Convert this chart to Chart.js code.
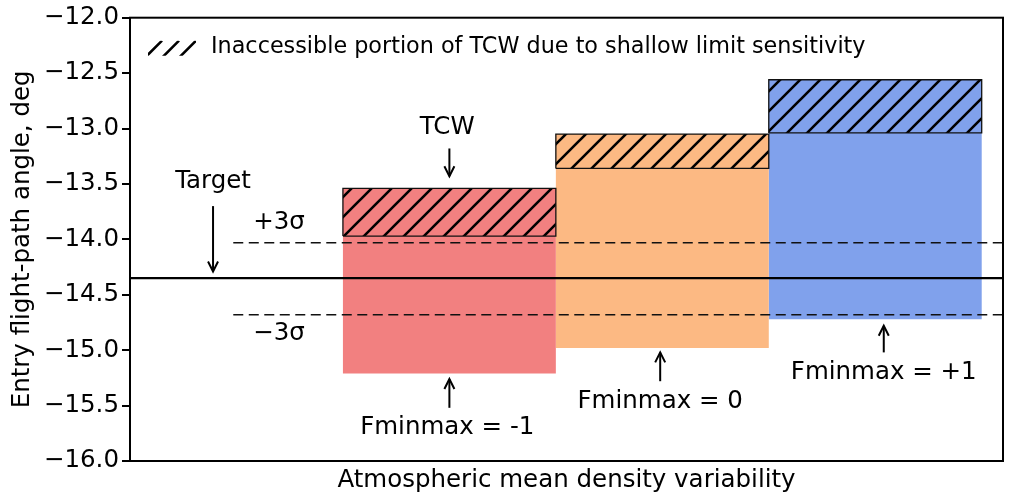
<!DOCTYPE html>
<html><head><meta charset="utf-8">
<script src="https://cdn.jsdelivr.net/npm/chart.js@4/dist/chart.umd.min.js"></script>
<style>html,body{margin:0;padding:0;background:#fff}#wrap{width:1016px;height:495px}</style>
</head><body><div id="wrap"><canvas id="c" width="1016" height="495"></canvas></div>
<script>
// ---- data ----
const cases = ['Fminmax = -1', 'Fminmax = 0', 'Fminmax = +1'];
const barStart = [1, 2, 3];
const barEnd = [2, 3, 4];
const tcwLow = [-15.21, -14.98, -14.72];   // lower limit of TCW
const tcwHigh = [-13.54, -13.05, -12.56];  // upper limit of TCW
const hatchLow = [-13.97, -13.36, -13.04]; // lower edge of inaccessible portion
const barColors = ['#F28080', '#FCB983', '#80A1EC'];
const targetFpa = -14.35;
const plus3Sigma = -14.03;
const minus3Sigma = -14.68;
const yTicks = [-16, -15.5, -15, -14.5, -14, -13.5, -13, -12.5, -12];

const FONT = 'DejaVu Sans';
const FS = 24.5;

function hatchPattern(bg) {
  const s = 20;
  const cv = document.createElement('canvas');
  cv.width = s; cv.height = s;
  const g = cv.getContext('2d');
  g.fillStyle = bg; g.fillRect(0, 0, s, s);
  g.strokeStyle = '#000'; g.lineWidth = 2.6; g.lineCap = 'square';
  g.beginPath();
  g.moveTo(-2, s + 2); g.lineTo(s + 2, -2);
  g.moveTo(-2, 2); g.lineTo(2, -2);
  g.moveTo(s - 2, s + 2); g.lineTo(s + 2, s - 2);
  g.stroke();
  return g.createPattern(cv, 'repeat');
}

function rect(x0, x1, y0, y1) {
  return [{x: x0, y: y0}, {x: x1, y: y0}, {x: x1, y: y1}, {x: x0, y: y1}, {x: x0, y: y0}];
}

const datasets = [];
cases.forEach((name, i) => {
  datasets.push({
    label: name + ' TCW', data: rect(barStart[i], barEnd[i], tcwLow[i], tcwHigh[i]),
    showLine: true, fill: 'shape', backgroundColor: barColors[i], borderWidth: 0,
    pointRadius: 0, tension: 0, order: 10
  });
});
cases.forEach((name, i) => {
  datasets.push({
    label: name + ' inaccessible', data: rect(barStart[i], barEnd[i], hatchLow[i], tcwHigh[i]),
    showLine: true, fill: 'shape', backgroundColor: hatchPattern(barColors[i]),
    borderColor: '#111', borderWidth: 1.3, pointRadius: 0, tension: 0, order: 8
  });
});
datasets.push({label: '+3σ', data: [{x: 0.485, y: plus3Sigma}, {x: 4.1, y: plus3Sigma}], showLine: true,
  borderColor: '#111', borderWidth: 1.5, borderDash: [10, 5.5], pointRadius: 0, fill: false, order: 2});
datasets.push({label: '-3σ', data: [{x: 0.485, y: minus3Sigma}, {x: 4.1, y: minus3Sigma}], showLine: true,
  borderColor: '#111', borderWidth: 1.5, borderDash: [10, 5.5], pointRadius: 0, fill: false, order: 2});
datasets.push({label: 'Target', data: [{x: 0, y: targetFpa}, {x: 4.1, y: targetFpa}], showLine: true,
  borderColor: '#000', borderWidth: 2.2, pointRadius: 0, fill: false, order: 1});

// annotations (text + arrows), in data coordinates
const notes = [
  {text: 'TCW', x: 1.49, y: -12.99, arrow: [1.5, -13.18, -13.43]},
  {text: 'Target', x: 0.39, y: -13.48, arrow: [0.39, -13.70, -14.29]},
  {text: '+3σ', x: 0.70, y: -13.85},
  {text: '\u22123σ', x: 0.70, y: -14.85},
  {text: cases[0], x: 1.49, y: -15.70, arrow: [1.5, -15.52, -15.26]},
  {text: cases[1], x: 2.49, y: -15.46, arrow: [2.49, -15.28, -15.02]},
  {text: cases[2], x: 3.54, y: -15.20, arrow: [3.54, -15.02, -14.78]}
];

const annotPlugin = {
  id: 'annot',
  afterDraw(chart) {
    const ctx = chart.ctx, xs = chart.scales.x, ys = chart.scales.y, a = chart.chartArea;
    ctx.save();
    // frame
    ctx.strokeStyle = '#000'; ctx.lineWidth = 2;
    ctx.strokeRect(a.left, a.top, a.right - a.left, a.bottom - a.top);
    ctx.fillStyle = '#000';
    ctx.font = FS + 'px "' + FONT + '"';
    ctx.textAlign = 'center'; ctx.textBaseline = 'middle';
    notes.forEach(n => {
      ctx.fillText(n.text, xs.getPixelForValue(n.x), ys.getPixelForValue(n.y));
      if (n.arrow) {
        const px = xs.getPixelForValue(n.arrow[0]);
        const y0 = ys.getPixelForValue(n.arrow[1]);
        const y1 = ys.getPixelForValue(n.arrow[2]);
        const dir = y1 > y0 ? 1 : -1;
        ctx.strokeStyle = '#000'; ctx.lineWidth = 2;
        ctx.beginPath(); ctx.moveTo(px, y0); ctx.lineTo(px, y1); ctx.stroke();
        ctx.beginPath();
        ctx.moveTo(px - 5, y1 - dir * 10); ctx.lineTo(px, y1); ctx.lineTo(px + 5, y1 - dir * 10);
        ctx.stroke();
      }
    });
    // legend
    const lx = a.left + 18, ly = a.top + 23;
    ctx.save();
    ctx.beginPath(); ctx.rect(lx, ly, 48, 15); ctx.clip();
    ctx.strokeStyle = '#000'; ctx.lineWidth = 2.6;
    ctx.beginPath();
    for (let k = -20; k < 70; k += 17) { ctx.moveTo(lx + k, ly + 17); ctx.lineTo(lx + k + 17, ly); }
    ctx.stroke();
    ctx.restore();
    ctx.font = '22.3px "' + FONT + '"';
    ctx.textAlign = 'left'; ctx.textBaseline = 'middle';
    ctx.fillText('Inaccessible portion of TCW due to shallow limit sensitivity', lx + 63, ly + 7);
    ctx.restore();
  }
};

new Chart(document.getElementById('c'), {
  type: 'scatter',
  data: {datasets},
  options: {
    responsive: false, animation: false, devicePixelRatio: 1,
    layout: {padding: {left: 0, right: 13, top: 13, bottom: 0}},
    plugins: {legend: {display: false}, tooltip: {enabled: false}},
    scales: {
      x: {
        type: 'linear', min: 0, max: 4.1,
        ticks: {display: false}, grid: {display: false}, border: {display: false},
        title: {display: true, text: 'Atmospheric mean density variability', color: '#000',
          font: {family: FONT, size: FS}, padding: {top: 5, bottom: 0}},
        afterFit(s) { s.height = 34; }
      },
      y: {
        type: 'linear', min: -16, max: -12,
        afterBuildTicks(s) { s.ticks = yTicks.map(v => ({value: v})); },
        ticks: {color: '#000', font: {family: FONT, size: FS}, padding: 3,
          callback: v => v.toFixed(1).replace('-', '\u2212')},
        grid: {drawOnChartArea: false, tickLength: 8, tickColor: '#000', lineWidth: 2},
        border: {display: false},
        title: {display: true, text: 'Entry flight-path angle, deg', color: '#000',
          font: {family: FONT, size: FS}, padding: {top: 8, bottom: 0}},
        afterFit(s) { s.width = 130; }
      }
    }
  },
  plugins: [annotPlugin]
});
</script></body></html>
